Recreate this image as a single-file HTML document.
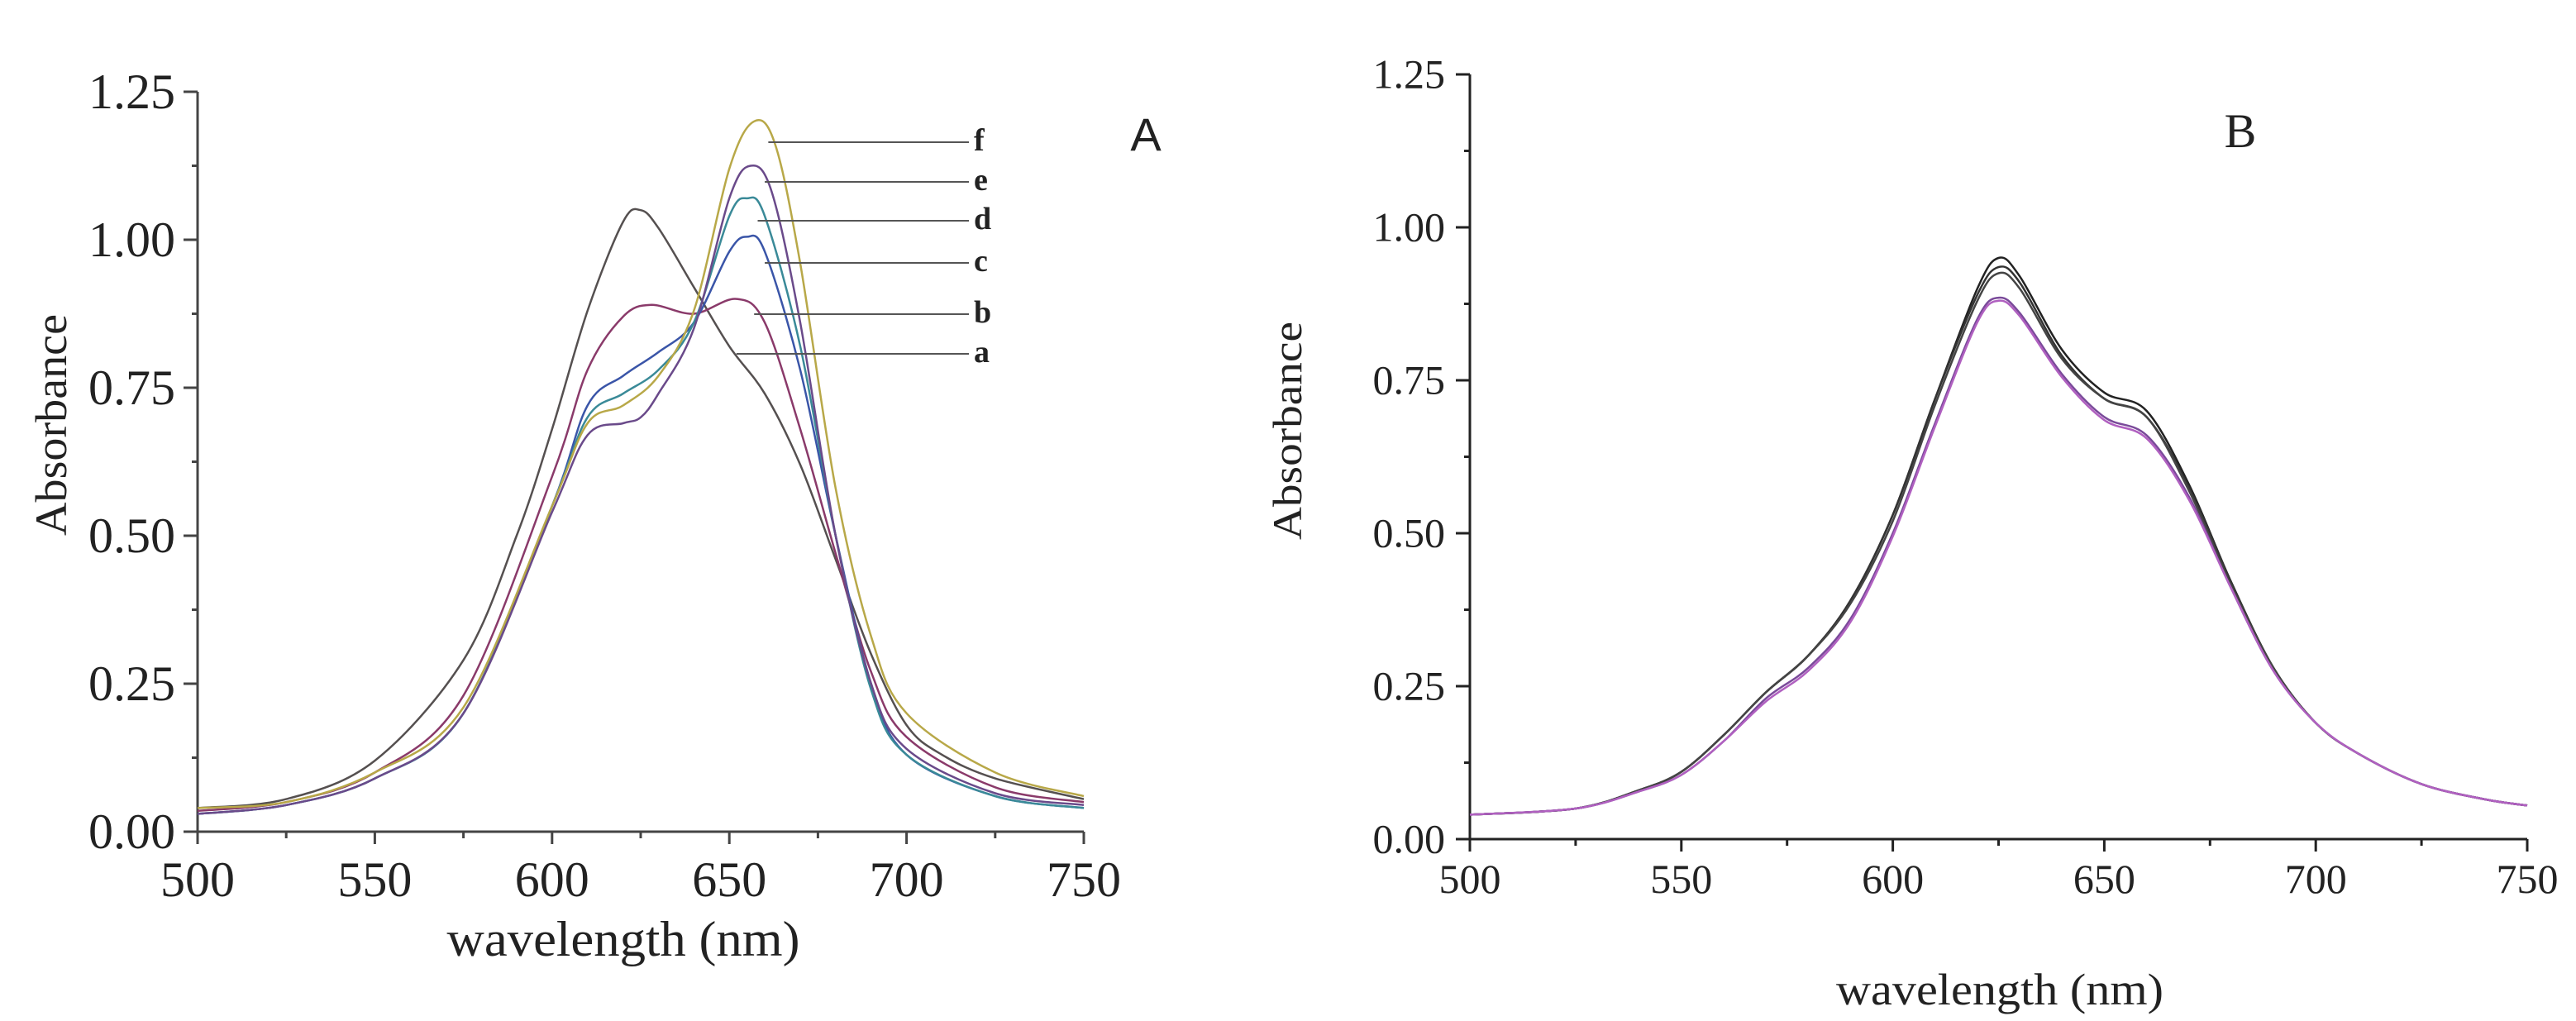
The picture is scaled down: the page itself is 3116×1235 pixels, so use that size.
<!DOCTYPE html>
<html><head><meta charset="utf-8"><style>
html,body{margin:0;padding:0;background:#fff;}
svg{display:block;}
text{font-family:"Liberation Serif",serif;fill:#222;}
</style></head><body>
<svg id="fig" width="3116" height="1235" viewBox="0 0 3116 1235" xmlns="http://www.w3.org/2000/svg">
<g id="panelA"></g>
<g id="panelB"></g>
</svg>
<script>
// ---- Panel A data ----
const wlA_a = [500,525,550,575,590,600,610,620,625,630,640,650,660,670,680,690,700,710,725,750];
const absA_a = [0.04,0.055,0.12,0.29,0.5,0.68,0.88,1.03,1.05,1.02,0.92,0.82,0.74,0.62,0.46,0.3,0.18,0.13,0.09,0.055];
const wlA_b = [500,525,550,575,600,610,620,628,640,652,660,670,680,690,700,725,750];
const absA_b = [0.035,0.05,0.1,0.23,0.6,0.78,0.87,0.89,0.875,0.9,0.86,0.68,0.47,0.27,0.16,0.075,0.05];
const wlA_c = [500,525,550,575,600,610,620,630,640,650,655,660,670,680,690,700,725,750];
const absA_c = [0.03,0.045,0.09,0.2,0.55,0.72,0.77,0.81,0.86,0.98,1.005,0.98,0.78,0.5,0.25,0.13,0.06,0.04];
const wlA_d = [500,525,550,575,600,610,620,630,640,650,655,660,670,680,690,700,725,750];
const absA_d = [0.03,0.045,0.09,0.2,0.55,0.7,0.74,0.78,0.86,1.04,1.07,1.04,0.82,0.5,0.24,0.13,0.06,0.04];
const wlA_e = [500,525,550,575,600,610,620,625,630,640,650,656,662,670,680,690,700,725,750];
const absA_e = [0.03,0.045,0.09,0.2,0.54,0.67,0.69,0.7,0.74,0.85,1.07,1.125,1.08,0.86,0.5,0.25,0.14,0.065,0.045];
const wlA_f = [500,525,550,575,600,610,620,630,640,650,657,663,670,680,690,700,725,750];
const absA_f = [0.04,0.05,0.1,0.21,0.55,0.69,0.72,0.77,0.88,1.12,1.2,1.16,0.96,0.58,0.33,0.2,0.1,0.06];
const seriesNamesA = ["a","b","c","d","e","f"];
const seriesColorsA = ["#555050","#8a3a6a","#3a55a8","#3a8a98","#6a4a8a","#b8a848"];
const labelWlA = [652,657,660,658,660,661];

// ---- Panel B data ----
const wlB = [500,525,540,550,560,570,580,590,600,610,620,625,630,640,650,660,670,680,690,700,710,725,740,750];
const absB_1 = [0.04,0.05,0.08,0.11,0.17,0.24,0.3,0.39,0.53,0.72,0.9,0.95,0.92,0.8,0.73,0.7,0.58,0.42,0.28,0.19,0.14,0.09,0.065,0.055];
const absB_2 = [0.04,0.05,0.08,0.11,0.17,0.24,0.3,0.39,0.53,0.72,0.89,0.935,0.91,0.79,0.72,0.69,0.575,0.42,0.28,0.19,0.14,0.09,0.065,0.055];
const absB_3 = [0.04,0.05,0.08,0.11,0.17,0.24,0.3,0.385,0.52,0.71,0.88,0.925,0.9,0.785,0.72,0.69,0.57,0.415,0.28,0.19,0.14,0.09,0.065,0.055];
const absB_4 = [0.04,0.05,0.078,0.105,0.16,0.23,0.28,0.36,0.5,0.68,0.85,0.885,0.86,0.76,0.69,0.66,0.56,0.41,0.275,0.19,0.14,0.09,0.065,0.055];
const absB_5 = [0.04,0.05,0.078,0.105,0.16,0.225,0.275,0.355,0.495,0.675,0.845,0.88,0.855,0.755,0.685,0.655,0.555,0.41,0.275,0.19,0.14,0.09,0.065,0.055];
const seriesColorsB = ["#222","#333","#444","#7a4a9a","#b060c0"];

const xTicks = [500,550,600,650,700,750];
const yTicks = [0,0.25,0.5,0.75,1.0,1.25];
const yTickLabels = ["0.00","0.25","0.50","0.75","1.00","1.25"];

const NS = "http://www.w3.org/2000/svg";
function mk(tag, attrs, parent){const e=document.createElementNS(NS,tag);for(const k in attrs)e.setAttribute(k,attrs[k]);parent.appendChild(e);return e;}
function smooth(pts){let d=`M${pts[0][0].toFixed(1)},${pts[0][1].toFixed(1)}`;
 for(let i=0;i<pts.length-1;i++){const p0=pts[Math.max(i-1,0)],p1=pts[i],p2=pts[i+1],p3=pts[Math.min(i+2,pts.length-1)];
  const c1=[p1[0]+(p2[0]-p0[0])/6,p1[1]+(p2[1]-p0[1])/6],c2=[p2[0]-(p3[0]-p1[0])/6,p2[1]-(p3[1]-p1[1])/6];
  d+=` C${c1[0].toFixed(1)},${c1[1].toFixed(1)} ${c2[0].toFixed(1)},${c2[1].toFixed(1)} ${p2[0].toFixed(1)},${p2[1].toFixed(1)}`;}
 return d;}

function axes(g,cfg){
 const {x0,x1,y0,yTop,font,tickBase,lblRight,axisCol,title,titleX,titleY,titleLen,ylabX,ylabY,ylabLen,ylabFont,titleFont}=cfg;
 const X=w=>x0+(w-500)/250*(x1-x0), Y=v=>y0-v/1.25*(y0-yTop);
 let e=mk("line",{x1:x0,y1:y0,x2:x1,y2:y0,stroke:axisCol,"stroke-width":3},g);
 
 
 e=mk("line",{x1:x0,y1:y0+14,x2:x0,y2:yTop,stroke:axisCol,"stroke-width":3},g);
 
 
 for(let w=500;w<=750;w+=25){const major=(w%50===0);
  e=mk("line",{x1:X(w),y1:y0,x2:X(w),y2:y0+(major?15:8),stroke:axisCol,"stroke-width":3},g);
  
  }
 for(let i=0;i<=10;i++){const v=i*0.125,major=(i%2===0);
  e=mk("line",{x1:x0-(major?17:7),y1:Y(v),x2:x0,y2:Y(v),stroke:axisCol,"stroke-width":3},g);
  
  }
 xTicks.forEach(w=>{e=mk("text",{x:X(w),y:tickBase,"font-size":font,"text-anchor":"middle"},g);e.textContent=w;
  
  });
 yTicks.forEach((v,i)=>{e=mk("text",{x:lblRight,y:Y(v)+font*0.33,"font-size":font,"text-anchor":"end"},g);e.textContent=yTickLabels[i];
  
  });
 e=mk("text",{x:titleX,y:titleY,"font-size":titleFont,"text-anchor":"middle",textLength:titleLen,lengthAdjust:"spacingAndGlyphs"},g);e.textContent=title;
 
 
 e=mk("text",{x:0,y:0,"font-size":ylabFont,"text-anchor":"middle",textLength:ylabLen,lengthAdjust:"spacingAndGlyphs",transform:`translate(${ylabX},${ylabY}) rotate(-90)`},g);e.textContent="Absorbance";
 
 
 return {X,Y};
}

// Panel A
const gA=document.getElementById("panelA");
const A=axes(gA,{x0:239,x1:1311,y0:1006,yTop:111,font:60,tickBase:1084,lblRight:212,axisCol:"#444",
 title:"wavelength (nm)",titleX:754,titleY:1156,titleLen:427,titleFont:60,ylabX:80,ylabY:514,ylabLen:268,ylabFont:54});
const wlsA=[wlA_a,wlA_b,wlA_c,wlA_d,wlA_e,wlA_f], absA=[absA_a,absA_b,absA_c,absA_d,absA_e,absA_f];
wlsA.forEach((wl,i)=>{const pts=wl.map((w,j)=>[A.X(w),A.Y(absA[i][j])]);
 const p=mk("path",{d:smooth(pts),fill:"none",stroke:seriesColorsA[i],"stroke-width":2.5},gA);
 
 });
const labelYs=[428,380,318,267,220,172];
seriesNamesA.forEach((n,i)=>{
 const l=mk("line",{x1:A.X(labelWlA[i]),y1:labelYs[i],x2:1172,y2:labelYs[i],stroke:"#555","stroke-width":2},gA);
 
 
 const t=mk("text",{x:1178,y:labelYs[i]+10,"font-size":38,"font-weight":"bold"},gA);t.textContent=n;
 
 });
let tA=mk("text",{x:1386,y:182,"font-size":56,"text-anchor":"middle",style:"font-family:'Liberation Sans',sans-serif"},gA);tA.textContent="A";



// Panel B
const gB=document.getElementById("panelB");
const B=axes(gB,{x0:1778,x1:3057,y0:1015,yTop:90,font:50,tickBase:1080,lblRight:1748,axisCol:"#222",
 title:"wavelength (nm)",titleX:2419,titleY:1215,titleLen:396,titleFont:54,ylabX:1574,ylabY:521,ylabLen:264,ylabFont:50});
[absB_1,absB_2,absB_3,absB_4,absB_5].forEach((arr,i)=>{const pts=wlB.map((w,j)=>[B.X(w),B.Y(arr[j])]);
 const p=mk("path",{d:smooth(pts),fill:"none",stroke:seriesColorsB[i],"stroke-width":2.5},gB);
 
 });
let tB=mk("text",{x:2710,y:178,"font-size":58,"text-anchor":"middle"},gB);tB.textContent="B";


</script>
</body></html>
